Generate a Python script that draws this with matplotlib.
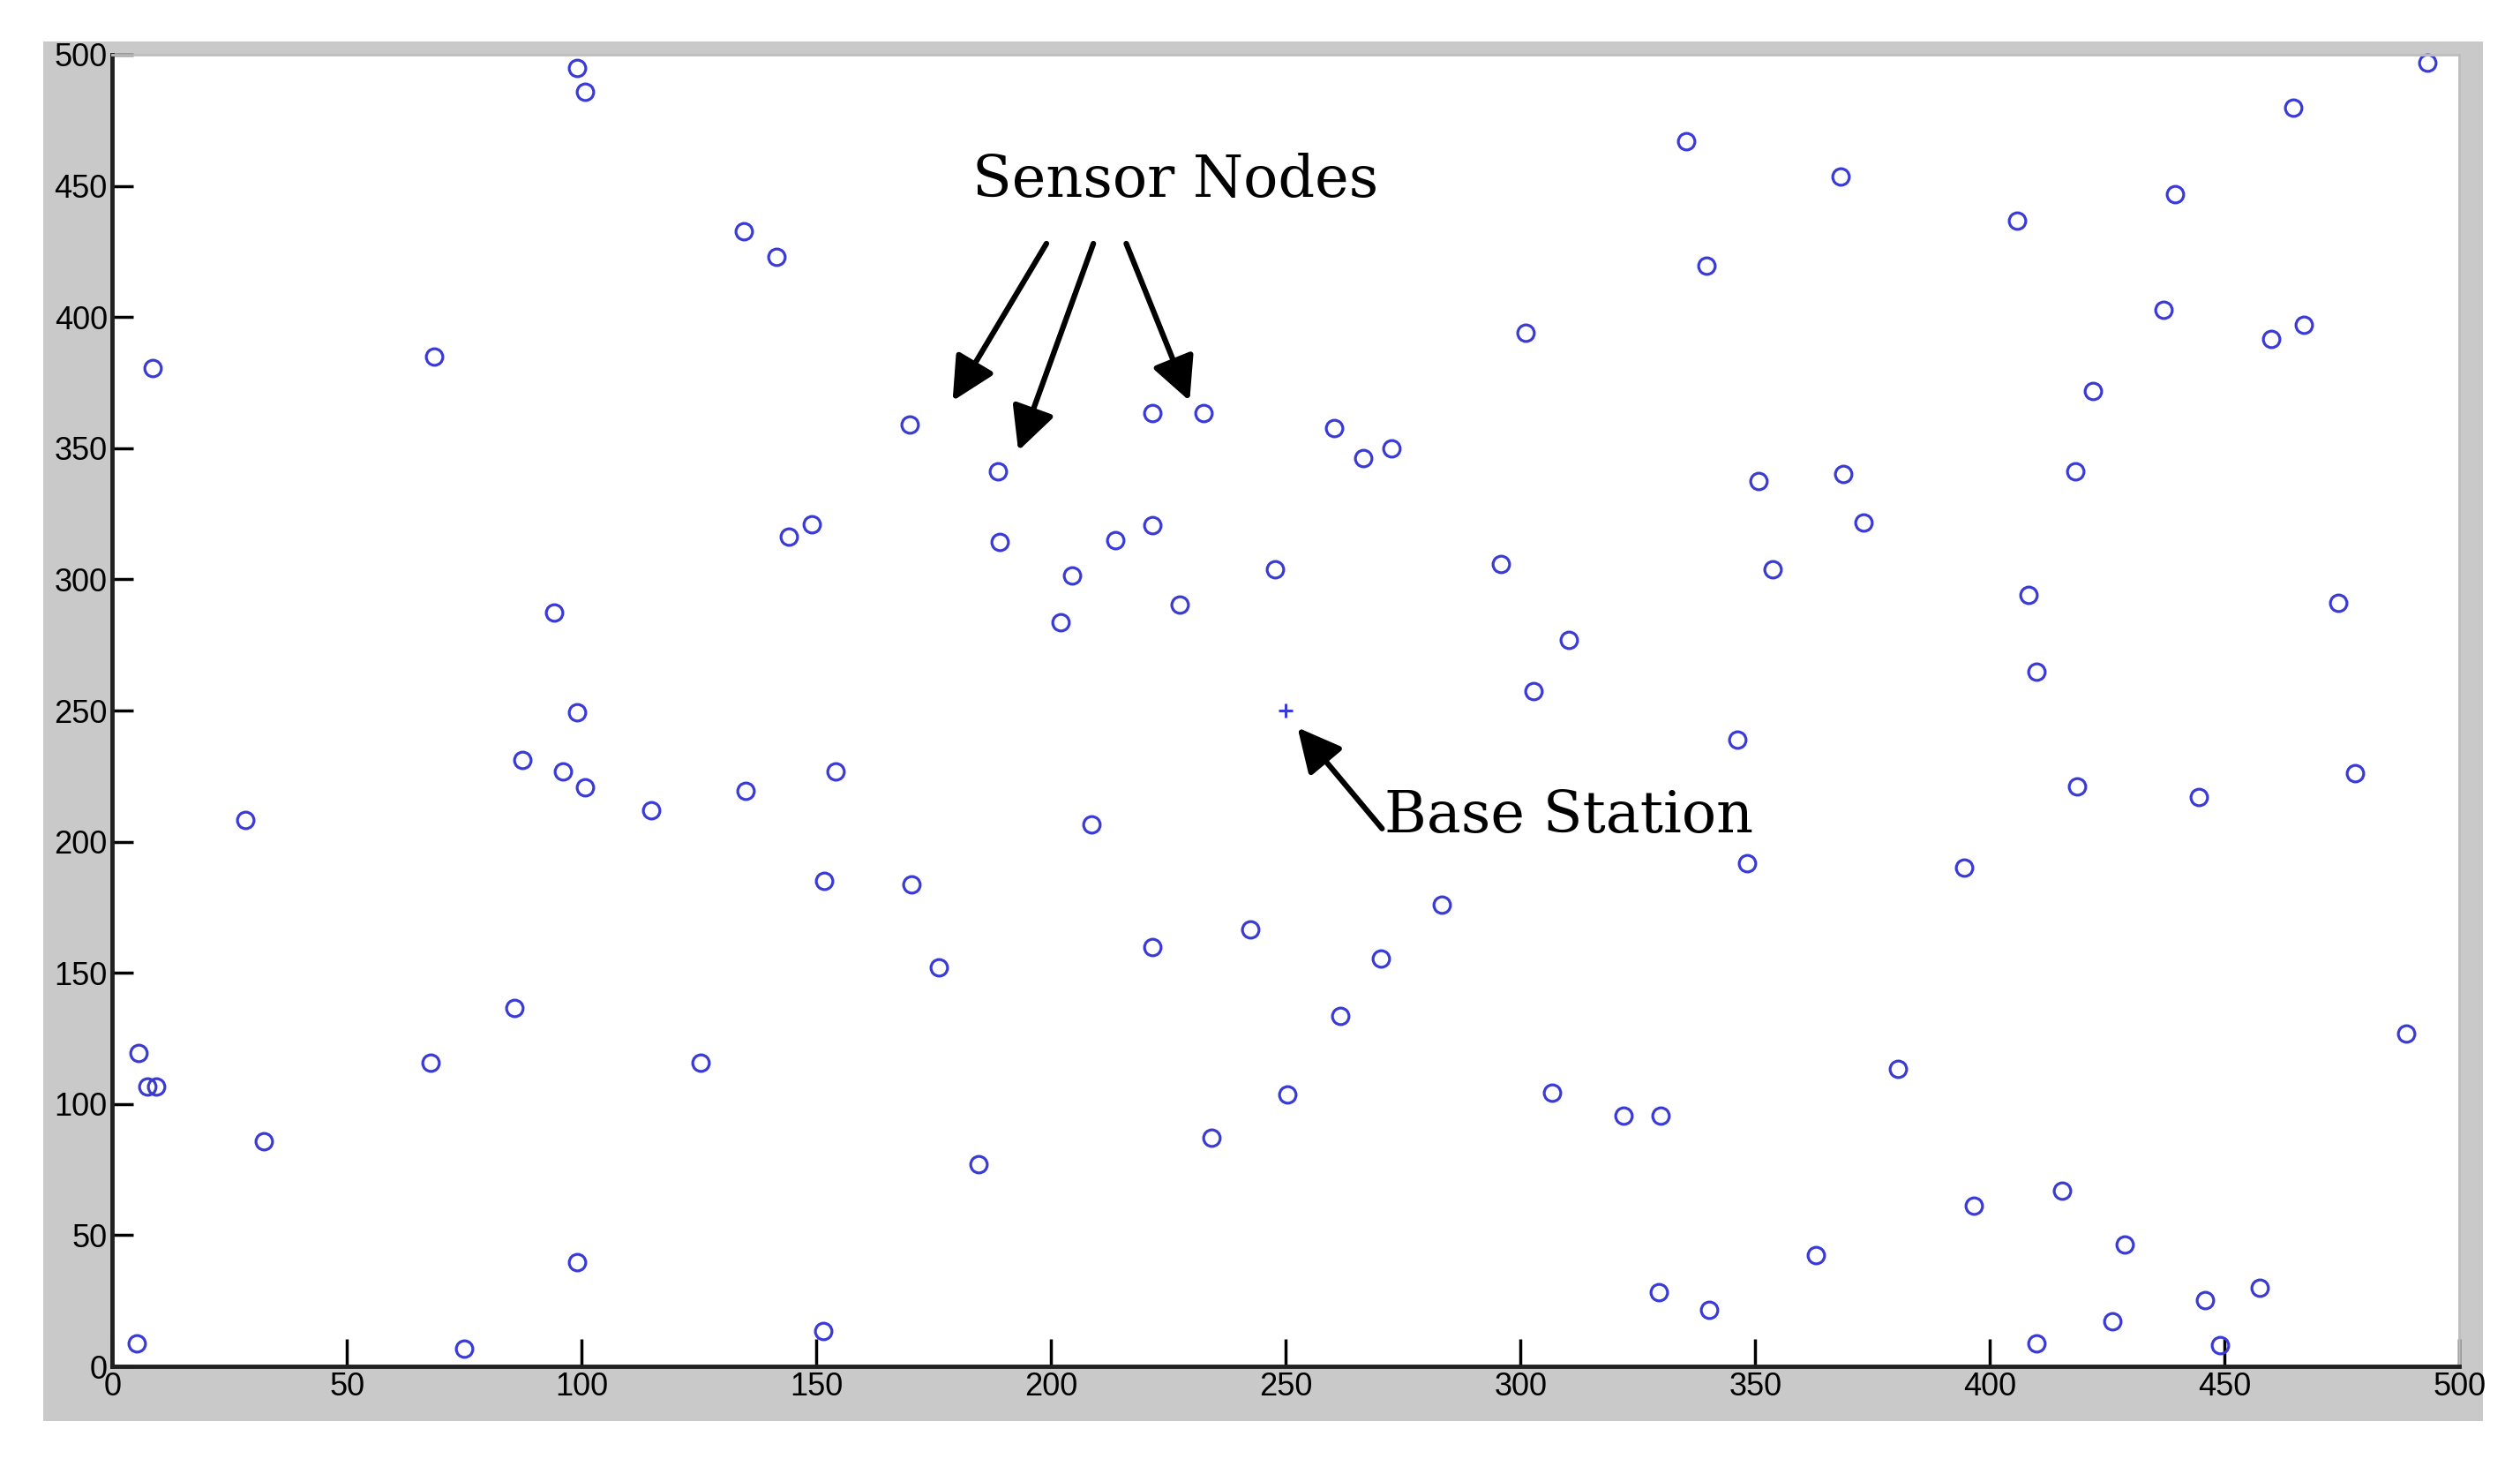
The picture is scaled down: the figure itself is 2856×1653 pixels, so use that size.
#!/usr/bin/env python3
"""
Sensor network layout: 100 randomly deployed sensor nodes and a base station
in a 500 x 500 field (MATLAB-style figure).
"""

import matplotlib
matplotlib.use("Agg")
import matplotlib.pyplot as plt
from matplotlib.patches import Rectangle

# ---------------------------------------------------------------------------
# Data
# ---------------------------------------------------------------------------

node_x = [5.1, 5.5, 7.5, 9.4, 8.6, 28.4, 32.2, 67.8, 68.5, 75.0,
          85.6, 87.3, 94.2, 95.9, 99.0, 100.7, 99.0, 100.7, 99.0, 114.7,
          125.3, 134.6, 141.4, 134.9, 144.2, 149.0, 151.4, 151.7, 154.1, 169.9,
          170.2, 176.0, 184.6, 188.7, 189.0, 202.0, 204.5, 208.6, 213.7, 221.6,
          221.6, 221.6, 227.4, 232.5, 234.2, 242.5, 247.6, 250.3, 260.3, 261.6,
          266.4, 270.2, 272.6, 283.2, 295.9, 301.0, 302.7, 306.8, 310.3, 321.9,
          329.8, 329.5, 335.3, 339.7, 340.1, 346.2, 348.3, 350.7, 353.8, 363.0,
          368.2, 368.8, 373.0, 380.5, 394.5, 396.6, 405.8, 408.2, 409.9, 409.9,
          415.4, 418.2, 418.5, 421.9, 426.0, 428.8, 437.0, 439.4, 444.5, 445.9,
          449.0, 457.5, 459.9, 464.7, 466.8, 474.3, 477.7, 488.7, 493.2]
node_y = [8.6, 119.5, 106.6, 106.6, 380.5, 208.3, 85.8, 115.8, 384.8, 6.7,
          136.6, 231.0, 287.4, 226.7, 495.0, 485.9, 249.4, 220.6, 39.8, 212.0,
          115.8, 432.6, 422.8, 219.4, 316.2, 321.1, 13.5, 185.0, 226.7, 359.1,
          183.8, 152.0, 77.2, 341.3, 314.3, 283.7, 301.5, 206.5, 315.0, 363.4,
          320.5, 159.9, 290.4, 363.4, 87.0, 166.7, 303.9, 103.6, 357.8, 133.6,
          346.2, 155.6, 349.9, 175.9, 305.8, 394.0, 257.4, 104.2, 277.0, 95.6,
          95.6, 28.2, 466.9, 419.7, 21.4, 239.0, 191.8, 337.6, 303.9, 42.3,
          453.4, 340.1, 321.7, 113.4, 190.0, 61.3, 436.9, 294.1, 264.7, 8.6,
          66.8, 341.3, 221.2, 371.9, 17.2, 46.6, 402.6, 446.7, 216.9, 25.1,
          8.0, 30.0, 391.5, 479.8, 397.1, 291.1, 226.1, 126.8, 496.9]

base_x = [250]
base_y = [250]

xticks = [0, 50, 100, 150, 200, 250, 300, 350, 400, 450, 500]
yticks = [0, 50, 100, 150, 200, 250, 300, 350, 400, 450, 500]

# arrow (tail, head) pairs in data units
sensor_arrows = [((199, 428), (179, 368)),
                 ((209, 428), (193, 349)),
                 ((216, 428), (229.5, 368))]
base_arrow = ((270.5, 205), (252.5, 243.5))

TICK_FONT = ["Liberation Sans", "DejaVu Sans"]
NOTE_FONT = ["DejaVu Serif"]
ARROW = dict(arrowstyle="-|>,head_length=3.0,head_width=1.5",
             color="black", lw=4.5, shrinkA=0, shrinkB=0)


def main():
    fig = plt.figure(figsize=(28.56, 16.53), dpi=100)

    # grey MATLAB figure panel
    fig.patches.append(Rectangle((0.0172, 0.026), 0.968, 0.9456,
                                 transform=fig.transFigure, facecolor="#c9c9c9",
                                 edgecolor="none", zorder=-10))

    ax = fig.add_axes([0.0446, 0.0635, 0.9313, 0.899])
    ax.set_facecolor("white")

    ax.plot(node_x, node_y, "o", linestyle="none", markersize=13.5,
            markerfacecolor="none", markeredgecolor="#3a3ad6", markeredgewidth=2.3,
            clip_on=False)
    ax.plot(base_x, base_y, "+", linestyle="none", markersize=11,
            markeredgecolor="#3a3ad6", markeredgewidth=2.2)

    ax.set_xlim(0, 500)
    ax.set_ylim(0, 500)
    ax.set_xticks(xticks)
    ax.set_yticks(yticks)
    ax.set_xticklabels([str(t) for t in xticks], family=TICK_FONT, fontsize=26)
    ax.set_yticklabels([str(t) for t in yticks], family=TICK_FONT, fontsize=26)
    ax.tick_params(axis="x", direction="in", length=22, width=2.5, pad=4)
    ax.tick_params(axis="y", direction="in", length=17, width=2.5, pad=4)

    for side in ("left", "bottom"):
        ax.spines[side].set_linewidth(3.5)
        ax.spines[side].set_color("#202020")
    for side in ("top", "right"):
        ax.spines[side].set_linewidth(2)
        ax.spines[side].set_color("#bdbdbd")

    # annotations
    ax.text(226.5, 452, "Sensor Nodes", ha="center", va="center",
            family=NOTE_FONT, fontsize=47)
    for tail, head in sensor_arrows:
        ax.annotate("", xy=head, xytext=tail, arrowprops=ARROW)

    ax.text(271, 209.5, "Base Station", ha="left", va="center",
            family=NOTE_FONT, fontsize=47)
    ax.annotate("", xy=base_arrow[1], xytext=base_arrow[0], arrowprops=ARROW)

    fig.savefig("out.png", dpi=100, facecolor="white")
    plt.close(fig)


if __name__ == "__main__":
    main()
